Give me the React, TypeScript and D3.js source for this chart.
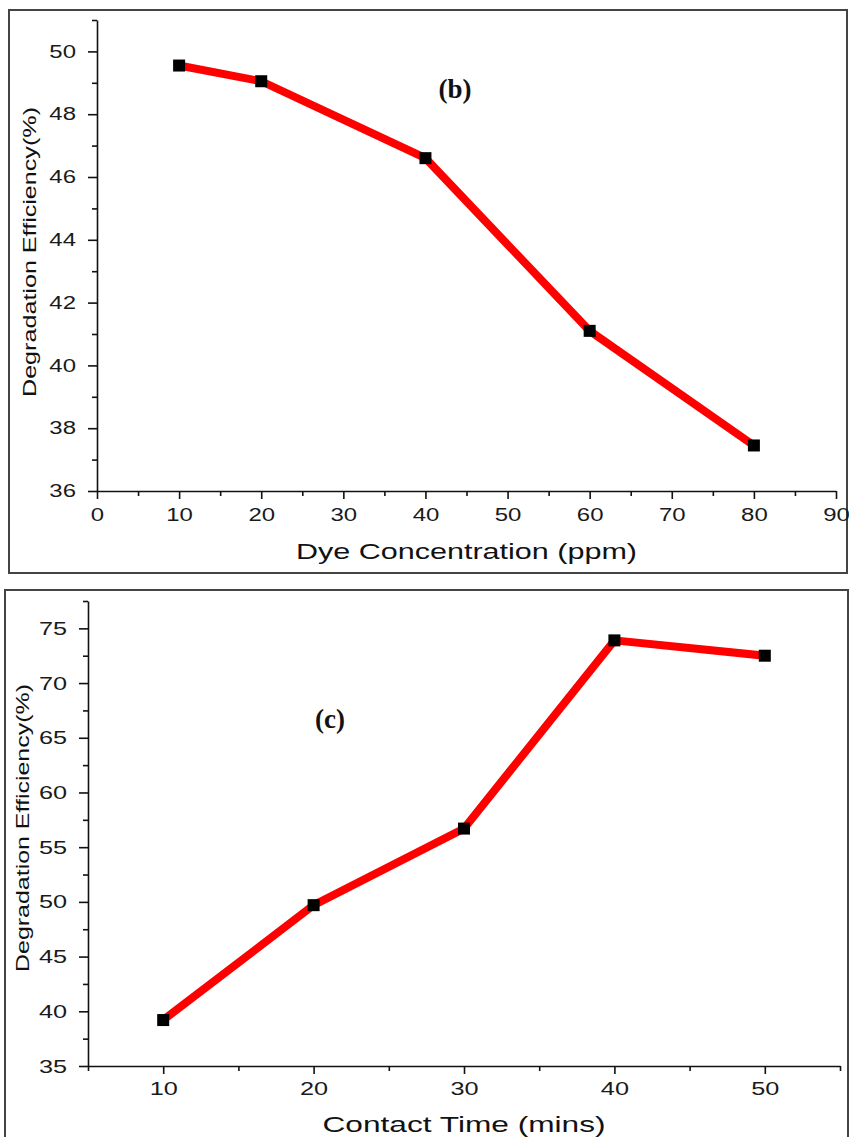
import { useEffect, useRef } from 'react';
import * as d3 from 'd3';

// panel (b): degradation vs dye concentration
const dyeConc = [10, 20, 40, 60, 80];
const dyeEff = [49.55, 49.05, 46.6, 41.1, 37.45];
const dyeXTicks = [0, 10, 20, 30, 40, 50, 60, 70, 80, 90];
const dyeYTicks = [36, 38, 40, 42, 44, 46, 48, 50];

// panel (c): degradation vs contact time
const contactTime = [10, 20, 30, 40, 50];
const contactEff = [39.2, 49.7, 56.7, 73.9, 72.5];
const timeXTicks = [10, 20, 30, 40, 50];
const timeYTicks = [35, 40, 45, 50, 55, 60, 65, 70, 75];

const yLabel = 'Degradation Efficiency(%)';
const FONT = '"Liberation Sans", Arial, sans-serif';
// the original figure uses a wide sans face; stretch Liberation Sans to match
const STRETCH = 1.33;

export default function App() {
  const svgRef = useRef<SVGSVGElement>(null);

  useEffect(() => {
    if (!svgRef.current) return;
    const root = d3.select(svgRef.current);
    root.selectAll('*').remove();

    const drawPanel = (opts: {
      frame: [number, number, number, number];
      xDomain: [number, number];
      xRange: [number, number];
      yDomain: [number, number];
      yRange: [number, number];
      xTicks: number[];
      yTicks: number[];
      xMinor: number[];
      yMinor: number[];
      xs: number[];
      ys: number[];
      xLabel: string;
      xLabelY: number;
      xLabelLen: number;
      tickSize: number;
      xPad: number;
      yLabelX: number;
      yLabelCenter: number;
      yLabelLen: number;
      title: string;
      titlePos: [number, number];
    }) => {
      const g = root.append('g');
      const [fx, fy, fw, fh] = opts.frame;
      g.append('rect')
        .attr('x', fx)
        .attr('y', fy)
        .attr('width', fw)
        .attr('height', fh)
        .attr('fill', 'none')
        .attr('stroke', '#444')
        .attr('stroke-width', 2);

      const x = d3.scaleLinear().domain(opts.xDomain).range(opts.xRange);
      const y = d3.scaleLinear().domain(opts.yDomain).range(opts.yRange);
      const x0 = opts.xRange[0];
      const y0 = opts.yRange[0];

      // minor ticks
      const xMinorAxis = g
        .append('g')
        .attr('transform', `translate(0,${y0})`)
        .call(d3.axisBottom(x).tickValues(opts.xMinor).tickSize(5).tickFormat(() => ''));
      xMinorAxis.select('.domain').remove();
      const yMinorAxis = g
        .append('g')
        .attr('transform', `translate(${x0},0)`)
        .call(d3.axisLeft(y).tickValues(opts.yMinor).tickSize(5).tickFormat(() => ''));
      yMinorAxis.select('.domain').remove();

      // major axes
      const xAxis = g
        .append('g')
        .attr('transform', `translate(0,${y0})`)
        .call(
          d3.axisBottom(x).tickValues(opts.xTicks).tickSize(8).tickSizeOuter(0).tickPadding(opts.xPad)
        );
      const yAxis = g
        .append('g')
        .attr('transform', `translate(${x0},0)`)
        .call(d3.axisLeft(y).tickValues(opts.yTicks).tickSize(9).tickSizeOuter(0).tickPadding(12));

      [xAxis, yAxis, xMinorAxis, yMinorAxis].forEach((a) => {
        a.selectAll('line').attr('stroke', '#111').attr('stroke-width', 1.6);
        a.select('.domain').attr('stroke', '#111').attr('stroke-width', 1.6);
        a.selectAll<SVGTextElement, unknown>('text')
          .attr('fill', '#1a1a1a')
          .style('font-family', FONT)
          .style('font-size', `${opts.tickSize}px`)
          .each(function () {
            const len = this.getComputedTextLength();
            if (len > 0) {
              d3.select(this)
                .attr('textLength', len * STRETCH)
                .attr('lengthAdjust', 'spacingAndGlyphs');
            }
          });
      });

      // line + markers
      const pts = opts.xs.map((v, i) => [v, opts.ys[i]] as [number, number]);
      const line = d3
        .line<[number, number]>()
        .x((d) => x(d[0]))
        .y((d) => y(d[1]));
      g.append('path')
        .datum(pts)
        .attr('d', line)
        .attr('fill', 'none')
        .attr('stroke', '#ff0000')
        .attr('stroke-width', 8);
      g.selectAll('rect.pt')
        .data(pts)
        .enter()
        .append('rect')
        .attr('class', 'pt')
        .attr('x', (d) => x(d[0]) - 6)
        .attr('y', (d) => y(d[1]) - 6)
        .attr('width', 12)
        .attr('height', 12)
        .attr('fill', '#000');

      // labels
      g.append('text')
        .attr('x', (opts.xRange[0] + opts.xRange[1]) / 2)
        .attr('y', opts.xLabelY)
        .attr('text-anchor', 'middle')
        .attr('textLength', opts.xLabelLen)
        .attr('lengthAdjust', 'spacingAndGlyphs')
        .style('font-family', FONT)
        .style('font-size', '22px')
        .attr('fill', '#111')
        .text(opts.xLabel);

      g.append('text')
        .attr('transform', `translate(${opts.yLabelX},${opts.yLabelCenter}) rotate(-90)`)
        .attr('text-anchor', 'middle')
        .attr('textLength', opts.yLabelLen)
        .attr('lengthAdjust', 'spacingAndGlyphs')
        .style('font-family', FONT)
        .style('font-size', '18px')
        .attr('fill', '#111')
        .text(yLabel);

      g.append('text')
        .attr('x', opts.titlePos[0])
        .attr('y', opts.titlePos[1])
        .attr('text-anchor', 'middle')
        .style('font-family', '"Liberation Serif", "Times New Roman", serif')
        .style('font-weight', 'bold')
        .style('font-size', '27px')
        .attr('fill', '#111')
        .text(opts.title);
    };

    drawPanel({
      frame: [9, 10, 838, 563],
      xDomain: [0, 90],
      xRange: [97, 836],
      yDomain: [36, 51],
      yRange: [491, 20],
      xTicks: dyeXTicks,
      yTicks: dyeYTicks,
      xMinor: d3.range(5, 90, 10),
      yMinor: d3.range(37, 52, 2),
      xs: dyeConc,
      ys: dyeEff,
      xLabel: 'Dye Concentration (ppm)',
      xLabelY: 559,
      xLabelLen: 341,
      tickSize: 18,
      xPad: 9,
      yLabelX: 36,
      yLabelCenter: 252,
      yLabelLen: 290,
      title: '(b)',
      titlePos: [455, 98],
    });

    drawPanel({
      frame: [5, 590, 843, 560],
      xDomain: [5, 55],
      xRange: [88, 840],
      yDomain: [35, 77.5],
      yRange: [1066, 601],
      xTicks: timeXTicks,
      yTicks: timeYTicks,
      xMinor: d3.range(5, 56, 10),
      yMinor: d3.range(37.5, 78, 5),
      xs: contactTime,
      ys: contactEff,
      xLabel: 'Contact Time (mins)',
      xLabelY: 1132,
      xLabelLen: 283,
      tickSize: 19,
      xPad: 8,
      yLabelX: 29,
      yLabelCenter: 828,
      yLabelLen: 288,
      title: '(c)',
      titlePos: [330, 728],
    });
  }, []);

  return (
    <svg
      ref={svgRef}
      width={849}
      height={1137}
      style={{ position: 'absolute', left: 0, top: 0, background: '#fff' }}
    />
  );
}
